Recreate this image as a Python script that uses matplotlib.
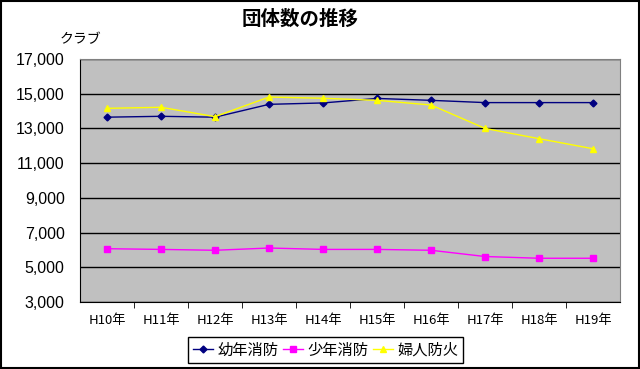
import matplotlib.pyplot as plt
from matplotlib.patches import Rectangle

plt.rcParams['font.family'] = ['Noto Sans CJK JP', 'DejaVu Sans']

years = ['H10年', 'H11年', 'H12年', 'H13年', 'H14年', 'H15年', 'H16年', 'H17年', 'H18年', 'H19年']
youth_fire = [13650, 13700, 13650, 14390, 14470, 14730, 14620, 14490, 14490, 14490]
boys_fire = [6070, 6030, 5980, 6110, 6030, 6030, 5980, 5620, 5520, 5520]
women_fire = [14160, 14220, 13680, 14810, 14740, 14620, 14350, 13000, 12410, 11830]

fig = plt.figure(figsize=(6.4, 3.69), dpi=100)
ax = fig.add_axes([0.125, 0.1816, 0.844, 0.6584])
ax.set_facecolor('#C0C0C0')

x = range(len(years))
ax.plot(x, youth_fire, color='#000080', marker='D', markersize=3.5, lw=1, label='幼年消防')
ax.plot(x, boys_fire, color='#FF00FF', marker='s', markersize=4, lw=1, label='少年消防')
ax.plot(x, women_fire, color='#FFFF00', marker='^', markersize=5, lw=1, label='婦人防火')

ax.set_xlim(-0.5, len(years) - 0.5)
ax.set_ylim(3000, 17000)
ax.set_yticks(range(3000, 17001, 2000))
ax.set_yticklabels([f'{v:,}' for v in range(3000, 17001, 2000)], fontsize=11.5,
                   family='Liberation Sans')
ax.set_xticks(list(x))
ax.set_xticklabels(years, fontsize=9.5)
ax.set_xticks([i + 0.5 for i in range(len(years) - 1)], minor=True)
ax.tick_params(axis='x', which='major', length=0, pad=9)
ax.tick_params(axis='x', which='minor', length=4, color='black')
ax.tick_params(axis='y', length=0, pad=11)
ax.yaxis.grid(True, color='black', lw=1)
ax.set_axisbelow(True)

for s in ['top', 'right']:
    ax.spines[s].set_color('#808080')
for s in ['left', 'bottom']:
    ax.spines[s].set_color('black')

fig.text(0.469, 0.947, '団体数の推移', fontsize=14, fontweight='bold', ha='center', va='center')
fig.text(0.125, 0.893, 'クラブ', fontsize=10, ha='center', va='center')

leg = fig.legend(loc='center', bbox_to_anchor=(0.509, 0.051), ncol=3, fontsize=11,
                 frameon=True, fancybox=False, edgecolor='black', framealpha=1,
                 handlelength=1.3, handletextpad=0.3, columnspacing=0.3,
                 borderpad=0.3)
leg.get_frame().set_linewidth(1)

fig.patches.append(Rectangle((0.001, 0.002), 0.997, 0.995, transform=fig.transFigure,
                             fill=False, edgecolor='black', lw=1.5))

fig.savefig('out.png', dpi=100)
